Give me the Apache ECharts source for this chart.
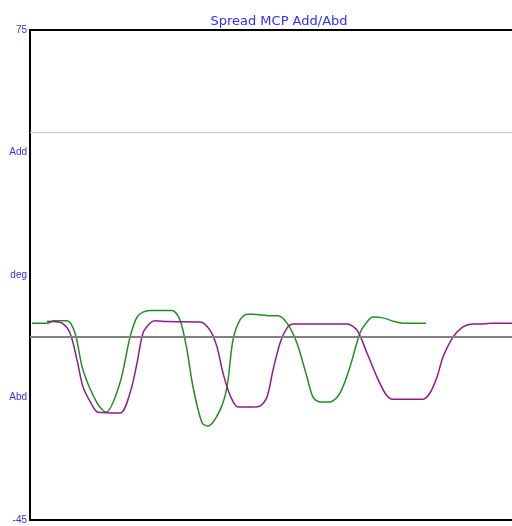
<!DOCTYPE html>
<html><head><meta charset="utf-8">
<script src="https://cdn.jsdelivr.net/npm/echarts@6/dist/echarts.min.js"></script>
<style>html,body{margin:0;padding:0;background:#fff}#c{width:512px;height:526px}</style>
</head><body><div id="c"></div>
<script>
var titleText = 'Spread MCP Add/Abd';
var yTicks = [75, 45, 15, -15, -45];
var yTickLabels = ['75', 'Add', 'deg', 'Abd', '-45'];
var refLines = [50, 0];
var greenX = [2,17,24,37,45,53,67,76,90,100,107,113,120,142,150,157,163,172,178,190,197,203,210,217,223,240,248,257,267,277,283,290,300,310,320,330,337,343,353,363,373,396];
var greenY = [3.2,3.2,3.8,3.8,0.8,-8.3,-16.3,-18.6,-11.4,-0.2,4.7,5.9,6.3,6.3,4.0,-3.4,-12.4,-21.2,-22.0,-18.1,-12.4,-0.9,4.0,5.4,5.4,5.0,5.0,3.2,-1.7,-10.0,-14.9,-16.1,-16.1,-13.9,-7.5,0.8,3.5,4.7,4.5,3.7,3.2,3.2];
var purpleX = [17,23,32,40,47,53,62,68,90,100,107,113,120,125,137,170,180,187,193,200,208,223,230,237,243,250,257,263,280,297,317,327,337,347,355,362,370,393,400,407,413,423,433,443,453,463,483];
var purpleY = [3.6,3.6,3.2,0.8,-5.8,-12.4,-16.8,-18.6,-18.8,-13.9,-6.6,0.8,3.2,3.8,3.6,3.5,1.5,-2.6,-9.0,-14.4,-17.3,-17.3,-17.1,-14.9,-8.3,-1.7,2.0,3.0,3.0,3.0,3.0,1.5,-4.1,-10.0,-13.9,-15.4,-15.4,-15.4,-13.9,-10.0,-5.1,-0.2,2.3,3.0,3.0,3.2,3.2];

function pairs(xs, ys){ return xs.map(function(x,i){return [x, ys[i]];}); }
var chart = echarts.init(document.getElementById('c'), null, {renderer:'canvas'});
chart.setOption({
  animation:false,
  backgroundColor:'#fff',
  title:{text:titleText, left:274, top:10, textAlign:'center',
    textStyle:{color:'#3030ff', fontSize:13, fontWeight:'normal', fontFamily:'DejaVu Sans, sans-serif'}},
  grid:{left:30, top:30, bottom:6, width:496, outerBoundsMode:'none', containLabel:false,
    show:true, borderColor:'#000', borderWidth:2, backgroundColor:'#fff'},
  xAxis:{type:'value', min:0, max:496, show:false},
  yAxis:{type:'value', min:-45, max:75, interval:30,
    axisLine:{show:false}, axisTick:{show:false}, splitLine:{show:false},
    axisLabel:{margin:3, color:'#3030ff', fontSize:10, fontFamily:'Liberation Sans, Arial, sans-serif',
      formatter:function(v){var i=yTicks.indexOf(v); return i>=0?yTickLabels[i]:'';}}},
  series:[
    {type:'line', data:[], markLine:{silent:true, symbol:['none','none'], label:{show:false},
      data:[{yAxis:refLines[0], lineStyle:{color:'#c8c8c8', width:1, type:'solid'}},
            {yAxis:refLines[1], lineStyle:{color:'#808080', width:2, type:'solid'}}]}},
    {type:'line', data:pairs(greenX, greenY), showSymbol:false, smooth:0.3,
      lineStyle:{color:'#1f8f1f', width:1.5}, z:3},
    {type:'line', data:pairs(purpleX, purpleY), showSymbol:false, smooth:0.3,
      lineStyle:{color:'#8f1a8f', width:1.5}, z:4}
  ]
});
</script></body></html>
